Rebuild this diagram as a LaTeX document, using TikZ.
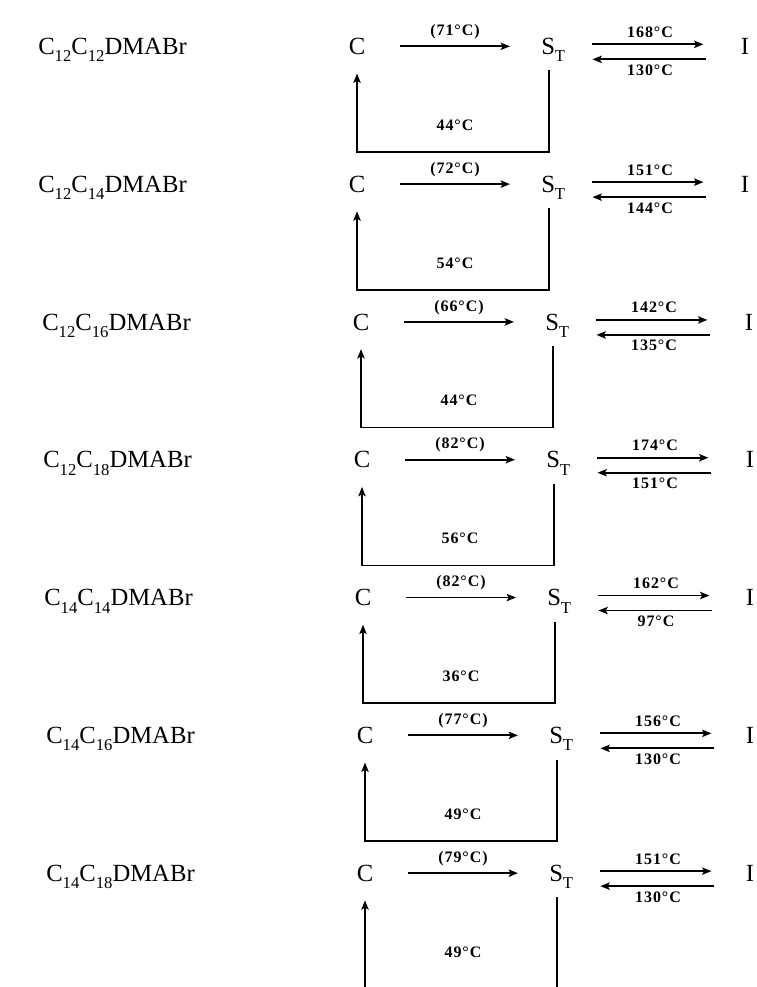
\documentclass[tikz,border=0pt]{standalone}
\usepackage{fontspec}
\setmainfont{Liberation Serif}
\newfontfamily\lblfont[LetterSpace=6]{Liberation Serif}
\usetikzlibrary{arrows.meta,calc}
\newcommand\sbs[1]{\raisebox{-0.3em}{\fontsize{12.5}{12.5}\selectfont #1}}
\tikzset{
  big/.style={font=\fontsize{18.5}{18.5}\selectfont, inner sep=0pt},
  tlabel/.style={font=\lblfont\bfseries\fontsize{12}{12}\selectfont, inner sep=0pt},
  arr/.style={line width=1.3pt, -{Stealth[length=7pt,width=5.5pt,inset=1.5pt]}},
  ln/.style={line width=1.3pt}
}
\begin{document}
\begin{tikzpicture}[x=0.75pt,y=-0.75pt]
\clip (0,0) rectangle (756,987);
\foreach \i/\na/\nb/\m/\f/\r/\lo/\dx/\dp/\ix in {
0/12/12/71/168/130/44/0/106/745,
1/12/14/72/151/144/54/0/106/745,
2/12/16/66/142/135/44/4/106/749,
3/12/18/82/174/151/56/5/106/750,
4/14/14/82/162/97/36/6/106/750,
5/14/16/77/156/130/49/8/106/750,
6/14/18/79/151/130/49/8/125/750}
{
  \pgfmathsetmacro\y{46+137.8*\i}
  \node[big, anchor=base west] (N\i) at (38+\dx,\y+8.5) {C\sbs{\na}C\sbs{\nb}DMABr};
  \node[big, anchor=base] (C\i) at (357+\dx,\y+8.5) {C};
  \node[big, anchor=base west] (S\i) at (541+\dx,\y+8.5) {S\sbs{T}};
  \node[big, anchor=base] (I\i) at (\ix,\y+8.5) {I};
  % C -> S_T
  \draw[arr] ($(C\i.center)+(43,0)$) -- ($(C\i.center -| S\i.west)+(-31,0)$);
  \node[tlabel] (M\i) at (455+\dx,\y-16) {(\m°C)};
  % S_T <-> I
  \draw[arr] ($(C\i.center -| S\i.east)+(27,-2)$) -- ($(C\i.center -| S\i.east)+(138,-2)$);
  \draw[arr] ($(C\i.center -| S\i.east)+(141,13)$) -- ($(C\i.center -| S\i.east)+(27,13)$);
  \node[tlabel] (F\i) at (650+\dx,\y-14) {\f°C};
  \node[tlabel] (R\i) at (650+\dx,\y+24) {\r°C};
  % loop S_T -> C
  \draw[arr] ($(S\i.base west)+(8,16)$) |- ($(C\i.base)+(0,\dp-8.5)$) -- ($(C\i.base)+(0,19)$);
  \node[tlabel] (L\i) at (455+\dx,\y+79) {\lo°C};
}
\end{tikzpicture}
\end{document}
